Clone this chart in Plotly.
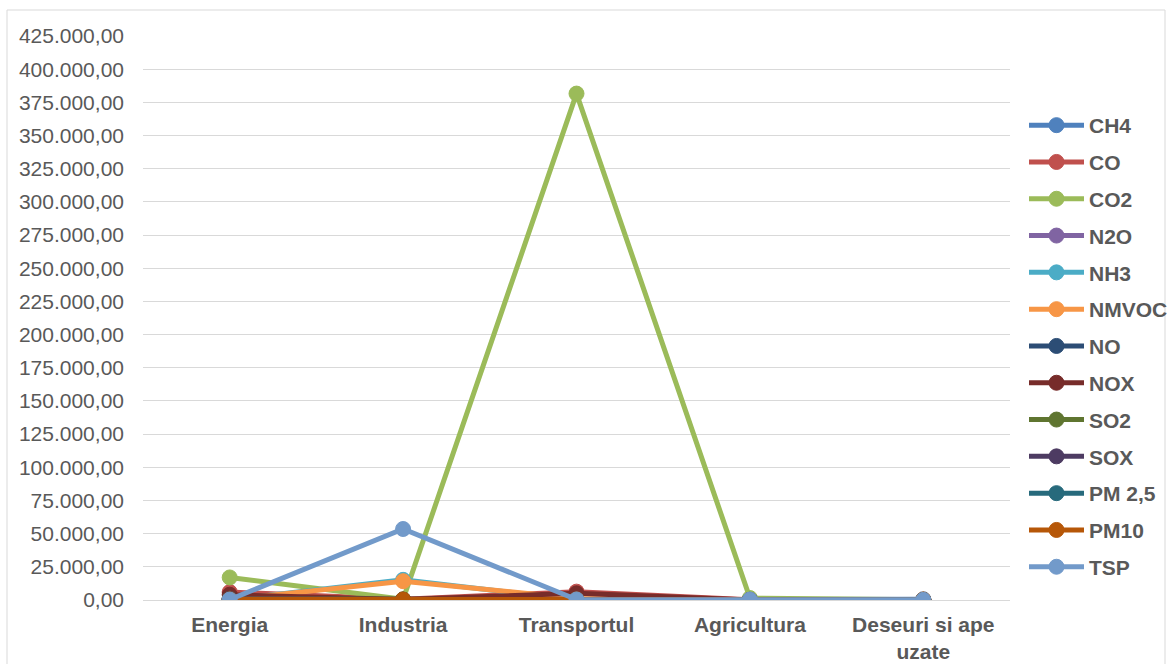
import plotly.graph_objects as go

categories = ["Energia", "Industria", "Transportul", "Agricultura", "Deseuri si ape<br>uzate"]

series_names = ["CH4", "CO", "CO2", "N2O", "NH3", "NMVOC", "NO", "NOX", "SO2", "SOX", "PM 2,5", "PM10", "TSP"]

ch4 = [1200, 300, 200, 300, 600]
co = [6000, 500, 6300, 150, 200]
co2 = [17000, 500, 381600, 1500, 200]
n2o = [100, 50, 50, 100, 50]
nh3 = [50, 15200, 100, 300, 50]
nmvoc = [300, 14200, 1200, 50, 400]
no = [100, 20, 50, 10, 10]
nox = [4000, 300, 5000, 50, 50]
so2 = [1000, 100, 50, 10, 10]
sox = [1000, 100, 50, 10, 10]
pm25 = [300, 200, 300, 50, 50]
pm10 = [500, 300, 400, 100, 50]
tsp = [300, 53500, 400, 300, 100]

values = [ch4, co, co2, n2o, nh3, nmvoc, no, nox, so2, sox, pm25, pm10, tsp]

colors = ["#4F81BD", "#C0504D", "#9BBB59", "#8064A2", "#4BACC6", "#F79646",
          "#2C4D75", "#772C2A", "#5F7530", "#4D3B62", "#276A7C", "#B65708", "#729ACA"]

fig = go.Figure()
for name, vals, col in zip(series_names, values, colors):
    fig.add_trace(go.Scatter(
        x=categories, y=vals, name=name, mode="lines+markers",
        line=dict(color=col, width=5),
        marker=dict(color=col, size=15, line=dict(color=col, width=1)),
        legendgroup=name,
    ))

W, H = 1170, 664
L, R, T, B = 143, 160, 36, 64
pw, ph = W - L - R, H - T - B

def px2x(px):
    return (px - L) / pw

def px2y(py):
    return (H - B - py) / ph

fig.add_shape(type="rect", xref="paper", yref="paper",
              x0=px2x(7), x1=px2x(1165), y0=px2y(680), y1=px2y(10),
              line=dict(color="#D9D9D9", width=1), fillcolor="rgba(0,0,0,0)", layer="below")

font_family = "Liberation Sans, Arial, sans-serif"

fig.update_layout(
    width=W, height=H,
    margin=dict(l=L, r=R, t=T, b=B, autoexpand=False),
    paper_bgcolor="white", plot_bgcolor="white",
    separators=",.",
    font=dict(family=font_family, color="#595959", size=21),
    xaxis=dict(
        type="category", range=[-0.5, 4.5], automargin=False,
        showgrid=False, showline=False, zeroline=False,
        tickfont=dict(family=font_family, size=21, color="#595959", weight="bold"),
        ticks="", ticklabelstandoff=10,
    ),
    yaxis=dict(
        range=[0, 425000], dtick=25000, tick0=0, automargin=False,
        tickformat=",.2f",
        showgrid=True, gridcolor="#D9D9D9", gridwidth=1,
        zeroline=True, zerolinecolor="#D9D9D9", zerolinewidth=1,
        showline=False, ticks="", ticklabelstandoff=18,
        tickfont=dict(family=font_family, size=21, color="#595959"),
    ),
    legend=dict(
        x=px2x(1024), xanchor="left", y=px2y(346), yanchor="middle",
        font=dict(family=font_family, size=21, color="#595959", weight="bold"),
        tracegroupgap=6.5, itemwidth=55, bgcolor="rgba(0,0,0,0)",
    ),
    showlegend=True,
)

fig.write_html("out.html")
